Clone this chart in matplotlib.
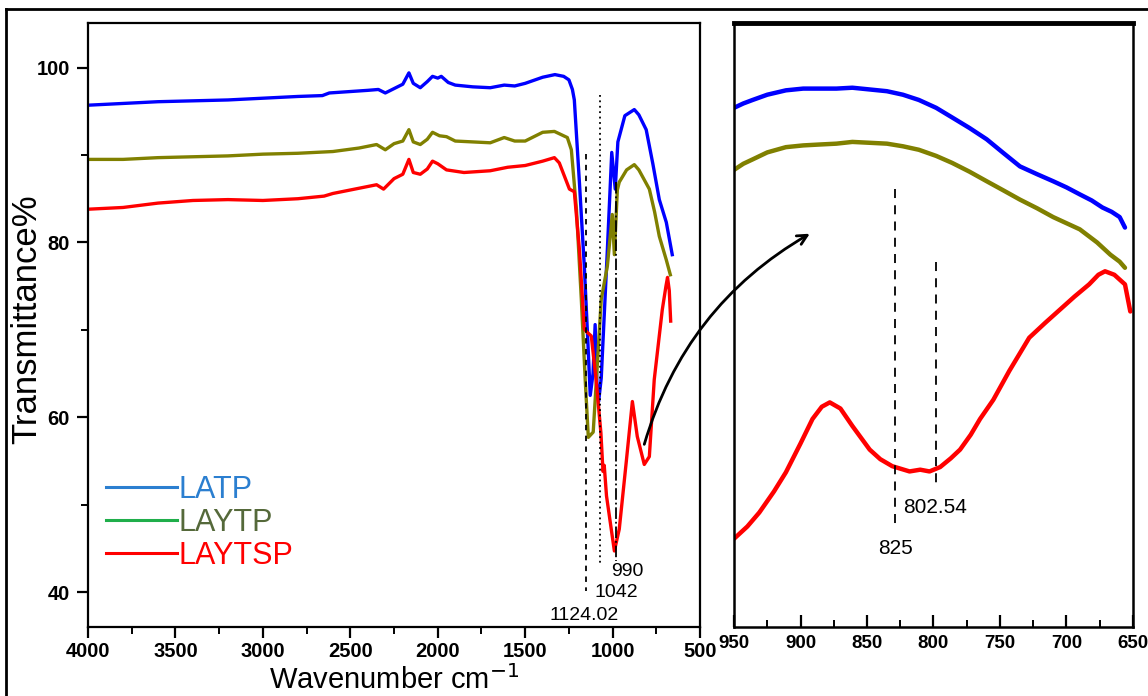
import matplotlib
matplotlib.use("Agg")
import matplotlib.pyplot as plt
from matplotlib.lines import Line2D
from matplotlib.patches import ConnectionPatch
from matplotlib.ticker import MultipleLocator

plt.rcParams["font.family"] = ["Liberation Sans", "DejaVu Sans"]

# FTIR spectra, full range (wavenumber cm-1, transmittance %)
latp_wn = [4000, 3800, 3600, 3400, 3200, 3000, 2800, 2660, 2620, 2400, 2340, 2300,
           2250, 2200, 2165, 2140, 2100, 2060, 2030, 2000, 1980, 1940, 1900, 1800,
           1700, 1620, 1560, 1500, 1400, 1330, 1280, 1250, 1230, 1219, 1190, 1162,
           1144, 1128, 1112, 1100, 1090, 1080, 1065, 1030, 1005, 985, 970, 930,
           876, 850, 808, 770, 733, 693, 659]
latp_t = [95.7, 95.9, 96.1, 96.2, 96.3, 96.5, 96.7, 96.8, 97.1, 97.4, 97.5, 97.1,
          97.6, 98.1, 99.4, 98.2, 97.7, 98.4, 99.0, 98.8, 99.0, 98.3, 98.0, 97.8,
          97.7, 98.0, 97.9, 98.2, 98.9, 99.2, 99.0, 98.6, 97.5, 96.3, 86.9, 77.3,
          69.7, 62.5, 65.0, 70.6, 64.0, 61.8, 64.5, 79.2, 90.3, 86.1, 91.5, 94.5,
          95.2, 94.6, 92.9, 89.0, 84.9, 82.3, 78.6]

laytp_wn = [4000, 3800, 3600, 3400, 3200, 3000, 2800, 2600, 2450, 2350, 2300, 2250,
            2200, 2165, 2140, 2100, 2060, 2030, 1990, 1950, 1900, 1800, 1700, 1620,
            1560, 1500, 1400, 1333, 1259, 1236, 1207, 1179, 1156, 1139, 1111, 1065,
            1030, 1002, 990, 973, 962, 920, 876, 850, 790, 760, 733, 693, 670]
laytp_t = [89.5, 89.5, 89.7, 89.8, 89.9, 90.1, 90.2, 90.4, 90.8, 91.2, 90.6, 91.3,
           91.6, 92.9, 91.5, 91.2, 91.8, 92.6, 92.2, 92.1, 91.6, 91.5, 91.4, 92.0,
           91.6, 91.6, 92.6, 92.7, 92.0, 90.6, 83.8, 73.5, 64.0, 57.7, 58.3, 73.5,
           77.3, 83.2, 78.6, 86.0, 86.9, 88.3, 88.9, 88.3, 86.1, 83.5, 80.7, 78.0, 76.3]

laytsp_wn = [4000, 3800, 3600, 3400, 3200, 3000, 2800, 2650, 2600, 2450, 2350, 2310,
             2250, 2200, 2165, 2140, 2100, 2060, 2030, 2000, 1950, 1850, 1700, 1600,
             1500, 1400, 1333, 1305, 1247, 1219, 1190, 1162, 1150, 1122, 1093, 1067,
             1055, 1048, 1035, 990, 962, 922, 887, 859, 819, 790, 762, 716, 695, 686,
             676, 668]
laytsp_t = [83.8, 84.0, 84.5, 84.8, 84.9, 84.8, 85.0, 85.3, 85.6, 86.2, 86.6, 86.1,
            87.3, 87.8, 89.5, 88.0, 87.8, 88.4, 89.3, 89.0, 88.3, 88.0, 88.2, 88.6,
            88.8, 89.3, 89.7, 89.1, 86.1, 85.8, 79.2, 70.1, 69.8, 69.3, 64.0, 58.2,
            53.8, 54.5, 51.0, 44.7, 47.2, 54.9, 61.8, 57.8, 54.6, 55.5, 64.3, 72.3,
            75.0, 76.0, 74.5, 71.0]

# zoomed region 950-650 cm-1
zoom_latp_wn = [950, 943, 936, 925, 911, 898, 886, 873, 861, 848, 835, 823, 811, 798,
                786, 773, 760, 748, 735, 722, 710, 700, 690, 681, 673, 666, 660, 656]
zoom_latp_t = [95.4, 95.9, 96.3, 96.9, 97.4, 97.6, 97.6, 97.6, 97.7, 97.5, 97.3, 96.9,
               96.3, 95.4, 94.3, 93.1, 91.8, 90.3, 88.7, 87.8, 87.0, 86.3, 85.5, 84.8,
               84.0, 83.5, 82.9, 81.7]
zoom_laytp_wn = [950, 943, 936, 925, 911, 898, 886, 873, 861, 848, 835, 823, 811, 798,
                 786, 773, 760, 748, 735, 722, 710, 700, 690, 677, 667, 660, 656]
zoom_laytp_t = [88.3, 89.0, 89.5, 90.3, 90.9, 91.1, 91.2, 91.3, 91.5, 91.4, 91.3, 91.0,
                90.6, 89.9, 89.1, 88.1, 87.0, 86.0, 84.9, 83.9, 82.9, 82.2, 81.5, 80.0,
                78.6, 77.8, 77.1]
zoom_laytsp_wn = [950, 940, 931, 920, 911, 900, 891, 884, 878, 870, 861, 848, 840, 831,
                  818, 810, 803, 795, 787, 780, 772, 765, 755, 743, 728, 716, 705, 694,
                  683, 676, 671, 664, 656, 652]
zoom_laytsp_t = [46.1, 47.5, 49.1, 51.5, 53.7, 57.0, 59.8, 61.2, 61.7, 61.0, 59.0, 56.3,
                 55.2, 54.4, 53.8, 54.0, 53.8, 54.3, 55.3, 56.3, 58.0, 59.8, 62.0, 65.3,
                 69.1, 70.8, 72.3, 73.8, 75.2, 76.3, 76.7, 76.3, 75.2, 72.1]

# peak markers
peak_main = [1150, 1070, 980]
peak_main_labels = ["1124.02", "1042", "990"]
peak_zoom = [829, 798]
peak_zoom_labels = ["825", "802.54"]

series_names = ["LATP", "LAYTP", "LAYTSP"]
line_colors = ["#0000ff", "#808000", "#ff0000"]
legend_line_colors = ["#2b7fd0", "#1fae4a", "#ff0000"]
legend_text_colors = ["#2b7fd0", "#55693a", "#ff0000"]

fig = plt.figure(figsize=(11.48, 6.96), dpi=100)
ax = fig.add_axes([0.0767, 0.0991, 0.5331, 0.8678])
axz = fig.add_axes([0.6394, 0.0991, 0.3475, 0.8678])

# outer frame (top and left only)
fig.add_artist(Line2D([0.005, 1.0], [0.987, 0.987], transform=fig.transFigure, color="black", lw=2))
fig.add_artist(Line2D([0.005, 0.005], [0.0, 0.987], transform=fig.transFigure, color="black", lw=2))

for wn, t, c in zip([latp_wn, laytp_wn, laytsp_wn], [latp_t, laytp_t, laytsp_t], line_colors):
    ax.plot(wn, t, color=c, lw=2.4, solid_joinstyle="round")

ax.plot([peak_main[0]] * 2, [90.1, 40.1], color="black", lw=1.3, ls=(0, (3, 3)))
ax.plot([peak_main[1]] * 2, [96.9, 43.2], color="black", lw=1.3, ls=(0, (1, 2)))
ax.plot([peak_main[2]] * 2, [86.9, 43.5], color="black", lw=1.3, ls="-.")
ax.text(916, 42.3, peak_main_labels[2], fontsize=14, ha="center", va="center")
ax.text(980, 40.0, peak_main_labels[1], fontsize=14, ha="center", va="center")
ax.text(1163, 37.3, peak_main_labels[0], fontsize=14, ha="center", va="center")

ax.set_xlim(4000, 500)
ax.set_ylim(36, 105.1)
ax.xaxis.set_major_locator(MultipleLocator(500))
ax.xaxis.set_minor_locator(MultipleLocator(250))
ax.yaxis.set_major_locator(MultipleLocator(20))
ax.yaxis.set_minor_locator(MultipleLocator(10))
ax.tick_params(which="major", direction="out", length=8, width=1.6, labelsize=14.5, pad=3)
ax.tick_params(which="minor", direction="out", length=5, width=1.4)
ax.tick_params(axis="y", which="major", pad=5)
for lab in ax.get_xticklabels() + ax.get_yticklabels():
    lab.set_fontweight("bold")
for s in ax.spines.values():
    s.set_linewidth(1.6)
ax.set_xlabel("Wavenumber cm$^{-1}$", fontsize=21, labelpad=3)
ax.set_ylabel("Transmittance%", fontsize=25)
ax.yaxis.set_label_coords(-0.074, 0.51)

handles = [Line2D([], [], color=c, lw=2.2) for c in legend_line_colors]
leg = ax.legend(handles, series_names, loc="upper left", bbox_to_anchor=(0.03, 0.252),
                frameon=False, fontsize=22, handlelength=2.3, handletextpad=0.05,
                labelspacing=0.1, borderpad=0, borderaxespad=0, labelcolor=legend_text_colors)

# zoomed panel
for wn, t, c in zip([zoom_latp_wn, zoom_laytp_wn, zoom_laytsp_wn],
                    [zoom_latp_t, zoom_laytp_t, zoom_laytsp_t], line_colors):
    axz.plot(wn, t, color=c, lw=3.2, solid_joinstyle="round", solid_capstyle="round")
axz.plot([peak_zoom[0]] * 2, [86.1, 47.2], color="black", lw=1.3, ls=(0, (5, 4)))
axz.plot([peak_zoom[1]] * 2, [77.8, 52.1], color="black", lw=1.3, ls=(0, (5, 4)))
axz.text(828.5, 45.0, peak_zoom_labels[0], fontsize=15, ha="center", va="center")
axz.text(799, 49.7, peak_zoom_labels[1], fontsize=15, ha="center", va="center")

axz.set_xlim(950, 650)
axz.set_ylim(36, 105.1)
axz.xaxis.set_major_locator(MultipleLocator(50))
axz.xaxis.set_minor_locator(MultipleLocator(25))
axz.set_yticks([])
axz.tick_params(axis="x", which="major", direction="in", length=9, width=1.6, labelsize=13.5, pad=6)
axz.tick_params(axis="x", which="minor", direction="in", length=5, width=1.4)
for lab in axz.get_xticklabels():
    lab.set_fontweight("bold")
for s in axz.spines.values():
    s.set_linewidth(1.8)
axz.spines["top"].set_linewidth(3.5)

arrow = ConnectionPatch(xyA=(819, 56.9), coordsA=ax.transData,
                        xyB=(893, 81.0), coordsB=axz.transData,
                        arrowstyle="->,head_length=0.7,head_width=0.35",
                        connectionstyle="arc3,rad=-0.2", color="black", lw=2)
fig.add_artist(arrow)

fig.savefig("out.png", dpi=100)
